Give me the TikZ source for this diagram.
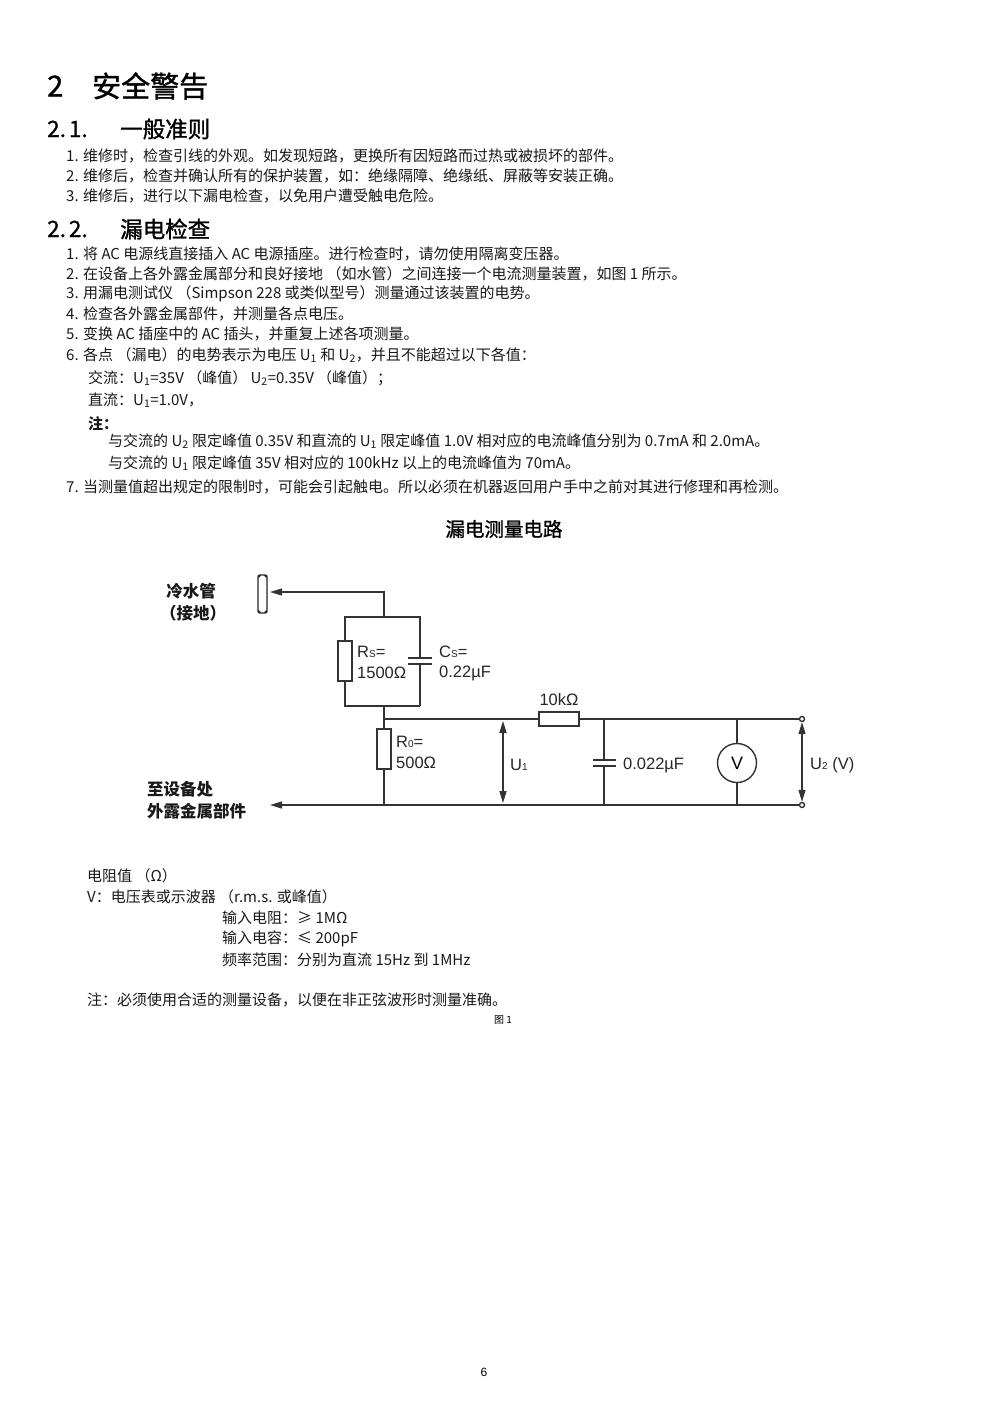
\documentclass[tikz,border=0pt]{standalone}
\usepackage{fontspec}
\setmainfont{Noto Sans CJK SC}
\newfontfamily\cjk{Noto Sans CJK SC}
\newfontfamily\cjkmed[FakeBold=1.2]{Noto Sans CJK SC}
\newfontfamily\arial{Liberation Sans}
\usetikzlibrary{arrows.meta}
\tikzset{
  body/.style={anchor=west,inner sep=0pt,font=\cjk\fontsize{15}{17}\selectfont,text=black!90},
  h1/.style={anchor=west,inner sep=0pt,font=\cjkmed\fontsize{29}{31}\selectfont},
  h2/.style={anchor=west,inner sep=0pt,font=\cjkmed\fontsize{22.5}{25}\selectfont},
  wire/.style={line width=1.4pt,draw=black!80},
  res/.style={draw=black!80,line width=1.4pt,fill=white,minimum width=14pt,minimum height=40pt,inner sep=0pt},
  hres/.style={res,minimum width=40pt,minimum height=14pt},
  plate/.style={line width=1.6pt,draw=black!80},
  lbl/.style={anchor=west,inner sep=0pt,font=\arial\fontsize{16.5}{19}\selectfont,text=black!85},
  cjklbl/.style={inner sep=0pt,font=\cjk\bfseries\fontsize{16.5}{19}\selectfont,text=black!90},
  tip/.style={-{Triangle[length=12pt,width=7pt]}},
  dtip/.style={{Triangle[length=12pt,width=7pt]}-{Triangle[length=12pt,width=7pt]}},
}
\newcommand{\sm}[1]{{\fontsize{10}{10}\selectfont #1}}
\begin{document}
\begin{tikzpicture}[x=1pt,y=-1pt]
\useasboundingbox[fill=white] (0,0) rectangle (993,1404);

% headings
\node[h1] (t1n) at (47,86) {2};
\node[h1] (t1) at (92,86) {安全警告};
\node[h2] (t21n) at (47,129) {2.\hspace{3pt}1.};
\node[h2] (t21) at (120,129) {一般准则};
\node[body] (a1) at (66,156) {1. 维修时，检查引线的外观。如发现短路，更换所有因短路而过热或被损坏的部件。};
\node[body] (a2) at (66,176) {2. 维修后，检查并确认所有的保护装置，如：绝缘隔障、绝缘纸、屏蔽等安装正确。};
\node[body] (a3) at (66,196) {3. 维修后，进行以下漏电检查，以免用户遭受触电危险。};
\node[h2] (t22n) at (47,229) {2.\hspace{3pt}2.};
\node[h2] (t22) at (120,229) {漏电检查};
\node[body] (b1) at (66,254) {1. 将 AC 电源线直接插入 AC 电源插座。进行检查时，请勿使用隔离变压器。};
\node[body] (b2) at (66,274) {2. 在设备上各外露金属部分和良好接地 （如水管）之间连接一个电流测量装置，如图 1 所示。};
\node[body] (b3) at (66,294) {3. 用漏电测试仪 （Simpson 228 或类似型号）测量通过该装置的电势。};
\node[body] (b4) at (66,314) {4. 检查各外露金属部件，并测量各点电压。};
\node[body] (b5) at (66,334) {5. 变换 AC 插座中的 AC 插头，并重复上述各项测量。};
\node[body] (b6) at (66,355) {6. 各点 （漏电）的电势表示为电压 U\textsubscript{1} 和 U\textsubscript{2}，并且不能超过以下各值：};
\node[body] (b6a) at (88,378) {交流：U\textsubscript{1}=35V （峰值） U\textsubscript{2}=0.35V （峰值）；};
\node[body] (b6b) at (88,400) {直流：U\textsubscript{1}=1.0V，};
\node[body,font=\cjk\bfseries\fontsize{15}{17}\selectfont] (b6c) at (88,424) {注：};
\node[body] (b6d) at (108,441) {与交流的 U\textsubscript{2} 限定峰值 0.35V 和直流的 U\textsubscript{1} 限定峰值 1.0V 相对应的电流峰值分别为 0.7mA 和 2.0mA。};
\node[body] (b6e) at (108,463) {与交流的 U\textsubscript{1} 限定峰值 35V 相对应的 100kHz 以上的电流峰值为 70mA。};
\node[body] (b7) at (66,487) {7. 当测量值超出规定的限制时，可能会引起触电。所以必须在机器返回用户手中之前对其进行修理和再检测。};

% circuit title
\node[inner sep=0pt,font=\cjkmed\fontsize{19.5}{22}\selectfont] (ct) at (504,529) {漏电测量电路};

% coordinates
\coordinate (top) at (384,592);
\coordinate (pt) at (270,592);
\coordinate (bl) at (345,617);
\coordinate (br) at (420,617);
\coordinate (btm) at (384,617);
\coordinate (ll) at (345,706);
\coordinate (lr) at (420,706);
\coordinate (mid) at (384,706);
\coordinate (n1) at (384,719);
\coordinate (n2) at (384,805);
\coordinate (gnd) at (270,805);
\coordinate (cx) at (604,719);
\coordinate (cxb) at (604,805);
\coordinate (vx) at (737,719);
\coordinate (vxb) at (737,805);

% pipe
\draw[line width=1.4pt,draw=black!85,rounded corners=2.5pt] (258,575) rectangle (267,613);
\fill[black!85] (259,576) circle (1.6pt) (266,576) circle (1.6pt) (259,612) circle (1.6pt) (266,612) circle (1.6pt);
\node[cjklbl] (cw1) at (191,591) {冷水管};
\node[cjklbl] (cw2) at (193,613) {（接地）};
\draw[wire,tip] (btm) -- (top) -- (pt);

% Rs // Cs
\node[res] (Rs) at (345,661) {};
\draw[wire] (btm) -- (bl) -- (Rs.north);
\draw[wire] (Rs.south) -- (ll) -- (mid) -- (lr);
\coordinate (cs1) at (420,658);
\coordinate (cs2) at (420,664);
\draw[wire] (btm) -- (br) -- (cs1);
\draw[wire] (cs2) -- (lr);
\draw[plate] (408,658) -- (432,658);
\draw[plate] (408,664) -- (432,664);
\node[lbl] (lRs) at (357,652) {R\sm{S}=};
\node[lbl] (lRs2) at (357,673) {1500Ω};
\node[lbl] (lCs) at (439,652) {C\sm{S}=};
\node[lbl] (lCs2) at (439,673) {0.22µF};

% R0
\node[res] (R0) at (384,749) {};
\draw[wire] (mid) -- (n1) -- (R0.north);
\draw[wire] (R0.south) -- (n2);
\node[lbl] (lR0) at (396,742) {R\sm{0}=};
\node[lbl] (lR02) at (396,763) {500Ω};
\node[cjklbl,anchor=west] (eq1) at (147,789) {至设备处};
\node[cjklbl,anchor=west] (eq2) at (147,811) {外露金属部件};
\draw[wire,tip] (n2) -- (gnd);

% right part
\node[hres] (R10) at (559,719) {};
\node[lbl,anchor=center] (l10) at (559,700) {10kΩ};
\node[circle,draw=black!80,line width=1.4pt,fill=white,minimum size=5pt,inner sep=0pt] (T1) at (802,719) {};
\node[circle,draw=black!80,line width=1.4pt,fill=white,minimum size=5pt,inner sep=0pt] (T2) at (802,805) {};
\draw[wire] (n1) -- (R10.west);
\draw[wire] (R10.east) -- (T1.west);
\draw[wire] (n2) -- (T2.west);
% U1 arrow
\coordinate (u1a) at (503,721);
\coordinate (u1b) at (503,803);
\draw[wire,dtip] (u1a) -- (u1b);
\node[lbl] (lU1) at (510,765) {U\sm{1}};
% capacitor 0.022
\coordinate (c1) at (604,760);
\coordinate (c2) at (604,766);
\draw[wire] (cx) -- (c1);
\draw[wire] (c2) -- (cxb);
\draw[plate] (593,760) -- (616,760);
\draw[plate] (593,766) -- (616,766);
\node[lbl] (lC) at (623,765) {0.022µF};
% voltmeter
\node[circle,draw=black!80,line width=1.4pt,minimum size=39pt,inner sep=0pt,font=\arial\fontsize{18}{20}\selectfont] (V) at (737,763) {V};
\draw[wire] (vx) -- (V.north);
\draw[wire] (V.south) -- (vxb);
% U2 arrow
\draw[wire,dtip] (T1.south) -- (T2.north);
\node[lbl] (lU2) at (810,765) {U\sm{2} (V)};

% notes below
\node[body] (d1) at (87,876) {电阻值 （Ω）};
\node[body] (d2) at (87,897) {V：电压表或示波器 （r.m.s. 或峰值）};
\node[body] (d3) at (222,918) {输入电阻：≥ 1MΩ};
\node[body] (d4) at (222,939) {输入电容：≤ 200pF};
\node[body] (d5) at (222,960) {频率范围：分别为直流 15Hz 到 1MHz};
\node[body] (d6) at (87,1000) {注：必须使用合适的测量设备，以便在非正弦波形时测量准确。};
\node[inner sep=0pt,font=\cjk\fontsize{10}{12}\selectfont] (fig) at (503,1020) {图 1};
\node[inner sep=0pt,font=\arial\fontsize{12}{14}\selectfont] (pg) at (484,1372) {6};
\end{tikzpicture}
\end{document}
